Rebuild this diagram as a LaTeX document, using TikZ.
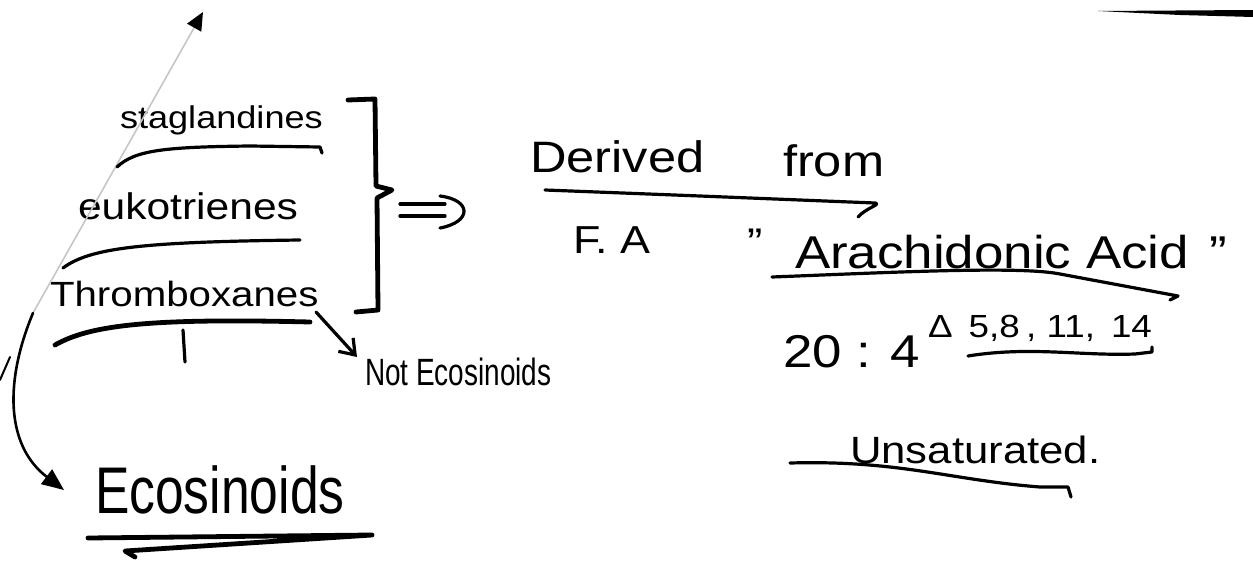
\documentclass[tikz,border=0pt]{standalone}
\usepackage{fontspec}
\setmainfont{Liberation Sans}[FakeStretch=1.15]
\usetikzlibrary{arrows.meta}
\newcommand\hwsize[1]{\fontsize{#1}{#1}\selectfont}
\begin{document}
\begin{tikzpicture}[x=0.5pt,y=-0.5pt,
  ink/.style={line width=1.6pt, line cap=round, line join=round},
  thick ink/.style={line width=2.4pt, line cap=round, line join=round},
  hw/.style={anchor=base west, inner sep=0pt, outer sep=0pt}]
\useasboundingbox (0,0) rectangle (1253,562);

% texts
\node[hw, font=\hwsize{15.7pt}] (pg) at (120,128) {staglandines};
\node[hw, font=\hwsize{18.5pt}] (lt) at (78,219) {eukotrienes};
\node[hw, font=\hwsize{17.5pt}] (tx) at (50,306) {Thromboxanes};
\node[hw, font=\hwsize{22pt}] (der) at (530,172) {Derived};
\node[hw, font=\hwsize{22pt}] (from) at (783,176) {from};
\node[hw, font=\hwsize{19.5pt}] (fa) at (573,253) {F. A};
\node[hw, font=\hwsize{20pt}] (q) at (747,256) {"};
\node[hw, font=\hwsize{23pt}] (aa) at (795,268) {Arachidonic Acid\hspace{0.45em}"};
\node[hw, font=\hwsize{23pt}] (n20) at (783,367) {20 : 4};
\node[hw, font=\hwsize{16pt}] (delta) at (928,337) {Δ\hspace{0.5em}5,8\hspace{0.2em}, 11,\hspace{0.5em}14};
\node[hw, font=\hwsize{19pt}] (uns) at (850,463) {Unsaturated.};
\node[hw, font=\hwsize{19pt}] (not) at (365,385) {\scalebox{0.64}[1]{Not Ecosinoids}};
\node[hw, font=\hwsize{33pt}] (eco) at (95,513) {\scalebox{0.68}[1]{Ecosinoids}};

% top-right stroke
\fill (1098,11) -- (1253,10) -- (1253,17) -- (1180,15) -- cycle;

% faint line with arrowhead at top
\coordinate (fs) at (33,313);
\coordinate (fe) at (203,12);
\draw[gray!45, line width=0.8pt, -{Triangle[length=9pt,width=8pt,black]}] (fs) -- (fe);

% small stroke at left edge
\draw[ink, line width=1pt] (0,380) -- (10,357);

% curve to Ecosinoids
\coordinate (ce) at (64,490);
\draw[ink, line width=1.3pt, -{Triangle[length=11pt,width=9pt]}] (fs) .. controls (5,380) and (5,445) .. (ce);

% underlines left
\draw[ink] (117,167) .. controls (135,150) and (165,147) .. (250,146) -- (320,147) -- (322,153);
\draw[ink] (63,268) .. controls (90,248) and (140,242) .. (300,240);
\draw[thick ink] (55,345) .. controls (90,325) and (150,318) .. (310,322);
\draw[ink] (183,330) -- (185,362);

% bracket
\draw[thick ink] (348,100) -- (375,99) -- (376,186) -- (392,190) -- (377,198) -- (378,310) -- (356,312);

% double arrow
\draw[ink] (400,204) -- (445,204);
\draw[ink] (400,216) -- (445,216);
\draw[ink] (440,196) .. controls (472,200) and (472,222) .. (440,228);

% arrow to Not Ecosinoids
\coordinate (ns) at (316,312);
\coordinate (ne) at (357,357);
\draw[ink, -{Straight Barb[length=7pt,width=10pt]}] (ns) -- (ne);

% underline Derived from
\draw[ink] (545,190) -- (700,196) -- (875,203) .. controls (882,204) and (866,208) .. (858,217);

% underline Arachidonic Acid
\draw[ink] (772,277) .. controls (900,272) and (1020,266) .. (1060,274) -- (1178,296) -- (1170,300);

% underline delta
\draw[ink] (968,356) .. controls (1030,346) and (1080,356) .. (1135,354) -- (1152,352) -- (1152,347);

% underline Unsaturated
\draw[ink] (790,463) .. controls (900,460) and (950,480) .. (1040,487) -- (1068,487) -- (1071,497);

% underline Ecosinoids
\draw[thick ink] (88,538) -- (372,535) -- (125,551) -- (135,557);
\end{tikzpicture}
\end{document}
